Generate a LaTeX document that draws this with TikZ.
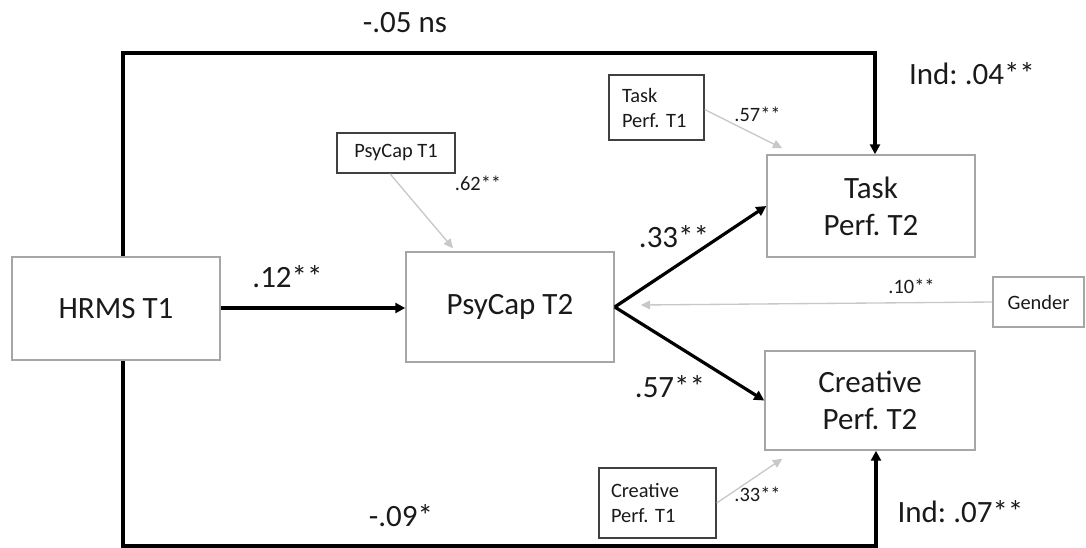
\documentclass[tikz,border=0pt]{standalone}
\usepackage{fontspec}
\setmainfont{Carlito}
\usetikzlibrary{arrows.meta,calc}
\definecolor{boxgray}{HTML}{A6A6A6}
\definecolor{ctrl}{HTML}{404040}
\definecolor{lightarr}{HTML}{C8C8C8}
\definecolor{txt}{HTML}{1A1A1A}
\frenchspacing
\begin{document}
\begin{tikzpicture}[x=0.75pt,y=-0.75pt,
  bigfont/.style={font=\fontsize{23.25}{27.75}\selectfont},
  smallfont/.style={font=\fontsize{15.3}{18.75}\selectfont},
  mainbox/.style={draw=boxgray, line width=1.1pt, bigfont, text=txt, align=center, inner sep=0pt},
  ctrlbox/.style={draw=ctrl, line width=1.1pt, smallfont, text=txt, inner ysep=0pt},
  biglabel/.style={bigfont, text=txt, inner sep=0pt},
  smalllabel/.style={smallfont, text=txt, inner sep=0pt},
  pathline/.style={draw=black, line width=2.4pt},
  patharrow/.style={pathline, -{Triangle[length=7.5pt,width=7.5pt]}},
  ctrlarrow/.style={draw=lightarr, line width=1pt, -{Triangle[length=7pt,width=6.5pt]}}
]
\useasboundingbox (0,0) rectangle (1086,547);

% main boxes
\node[mainbox, minimum width=156pt, minimum height=77.25pt] (hrms) at (116,308.5) {HRMS T1};
\node[mainbox, minimum width=156pt, minimum height=82.5pt] (psy2) at (510,307) {PsyCap T2};
\node[mainbox, minimum width=156pt, minimum height=76.5pt] (task2) at (871,206) {Task\\Perf. T2};
\node[mainbox, minimum width=157.5pt, minimum height=74.25pt] (crea2) at (870,400.5) {Creative\\Perf. T2};

% control boxes
\node[ctrlbox, inner xsep=0pt, minimum width=88.5pt, minimum height=30pt] (psy1) at (396,153) {PsyCap T1};
\node[ctrlbox, inner xsep=9.75pt, text width=51.75pt, align=left, minimum height=48.75pt] (task1) at (656.5,107.5) {Task\\Perf. T1};
\node[ctrlbox, inner xsep=9pt, text width=69.75pt, align=left, minimum height=52.5pt] (crea1) at (657.5,503) {Creative\\Perf. T1};
\node[ctrlbox, draw=boxgray, inner xsep=0pt, minimum width=68.25pt, minimum height=37.5pt] (gender) at (1038.5,302) {Gender};

% corner coordinates of the direct paths
\coordinate (lt) at (123,53);
\coordinate (rt) at (875,53);
\coordinate (lb) at (123,546);
\coordinate (rb) at (876,546);

% direct effects
\draw[patharrow] (hrms.north -| lt) -- (lt) -- (rt) -- (task2.north -| rt);
\draw[patharrow] (hrms.south -| lb) -- (lb) -- (rb) -- (crea2.south -| rb);

% mediation paths
\draw[patharrow] (hrms.east |- 0,308) -- (psy2.west |- 0,308);
\draw[patharrow] (psy2.east) -- (task2.west);
\draw[patharrow] (psy2.east) -- (crea2.west);

% control paths
\draw[ctrlarrow] ($(psy1.south)+(-6,0)$) -- ($(psy2.north)+(-57,-3)$);
\draw[ctrlarrow] ($(task1.east)+(0,2)$) -- ($(task2.north west)+(16,-6)$);
\draw[ctrlarrow] (crea1.east) -- ($(crea2.south west)+(18,8)$);
\draw[ctrlarrow] (gender.west) -- ($(psy2.east)+(26,-2)$);

% labels
\node[biglabel] (l05) at (405,23) {-.05 ns};
\node[biglabel] (lind1) at (972,74) {Ind: .04**};
\node[smalllabel] (l57s) at (757.5,114) {.57**};
\node[smalllabel] (l62) at (478,183) {.62**};
\node[biglabel] (l12) at (287.5,277) {.12**};
\node[biglabel] (l33) at (674,237) {.33**};
\node[smalllabel] (l10) at (911.5,286) {.10**};
\node[biglabel] (l57) at (670,387) {.57**};
\node[smalllabel] (l33s) at (757.5,494) {.33**};
\node[biglabel] (l09) at (401,516) {-.09*};
\node[biglabel] (lind2) at (960.5,512) {Ind: .07**};
\end{tikzpicture}
\end{document}
